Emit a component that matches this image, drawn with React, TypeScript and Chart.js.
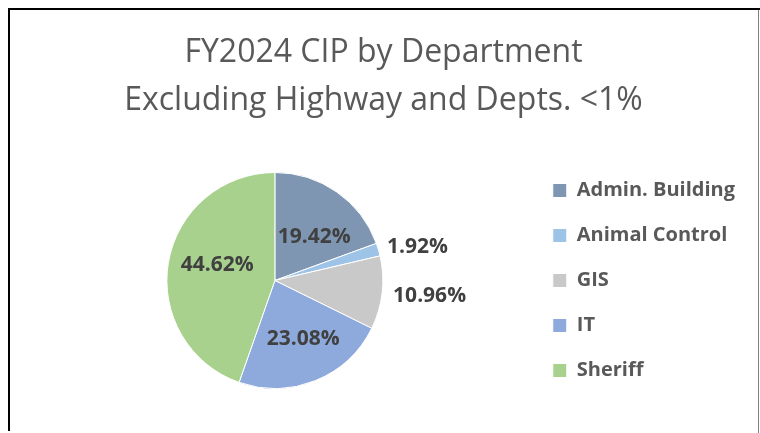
import React, { useEffect, useRef } from "react";
import { Chart, registerables } from "chart.js";

Chart.register(...registerables);

const titleLines = ["FY2024 CIP by Department", "Excluding Highway and Depts. <1%"];
const departments = ["Admin. Building", "Animal Control", "GIS", "IT", "Sheriff"];
const shares = [19.42, 1.92, 10.96, 23.08, 44.62];
const sliceColors = ["#7F96B2", "#9DC3E6", "#C9C9C9", "#8EA9DB", "#A9D18E"];
const labelPlacement = ["inside", "outside", "outside", "inside", "inside"];
const labelNudge = [
  [4, 7],
  [-1, 0],
  [1, 2],
  [5, 2],
  [3, -5],
];

const FONT = "'Open Sans', 'DejaVu Sans', sans-serif";

const pieLabels = {
  id: "pieLabels",
  afterDatasetsDraw(chart: any) {
    const ctx = chart.ctx;
    const meta = chart.getDatasetMeta(0);
    ctx.save();
    ctx.font = `bold 21px ${FONT}`;
    ctx.fillStyle = "#404040";
    ctx.textBaseline = "middle";
    meta.data.forEach((arc: any, i: number) => {
      const { x, y, startAngle, endAngle, outerRadius } = arc.getProps(
        ["x", "y", "startAngle", "endAngle", "outerRadius"],
        true
      );
      const mid = (startAngle + endAngle) / 2;
      const text = shares[i].toFixed(2) + "%";
      const [nx, ny] = labelNudge[i];
      if (labelPlacement[i] === "inside") {
        const r = outerRadius * 0.57;
        ctx.textAlign = "center";
        ctx.fillText(text, x + Math.cos(mid) * r + nx, y + Math.sin(mid) * r + ny);
      } else {
        const r = outerRadius + 10;
        ctx.textAlign = "left";
        ctx.fillText(text, x + Math.cos(mid) * r + nx, y + Math.sin(mid) * r + ny);
      }
    });
    ctx.restore();
  },
};

export default function App() {
  const ref = useRef<HTMLCanvasElement>(null);
  useEffect(() => {
    if (!ref.current) return;
    const chart = new Chart(ref.current, {
      type: "pie",
      data: {
        labels: departments,
        datasets: [
          {
            data: shares,
            backgroundColor: sliceColors,
            borderColor: "#ffffff",
            borderWidth: 1,
            radius: 108,
          },
        ],
      },
      options: {
        responsive: false,
        animation: false,
        layout: { padding: { left: 22, right: 15, top: 0, bottom: 2 } },
        plugins: {
          title: {
            display: true,
            text: titleLines,
            color: "#595959",
            font: { family: FONT, size: 32, weight: "normal", lineHeight: 1.5 },
            padding: { top: 29, bottom: 5 },
          },
          legend: {
            position: "right",
            fullSize: false,
            labels: {
              boxWidth: 14,
              boxHeight: 14,
              padding: 25,
              color: "#595959",
              font: { family: FONT, size: 20, weight: "bold" },
            },
          },
          tooltip: { enabled: false },
        },
      },
      plugins: [pieLabels],
    });
    return () => chart.destroy();
  }, []);

  return (
    <div style={{ position: "absolute", left: 0, top: 0, width: 760, height: 433, background: "#fff", overflow: "hidden" }}>
      <canvas ref={ref} width={760} height={433} style={{ position: "absolute", left: 0, top: 0 }} />
      <div style={{ position: "absolute", left: 8, top: 8, width: 752, height: 2, background: "#000" }} />
      <div style={{ position: "absolute", left: 8, top: 8, width: 2, height: 423, background: "#000" }} />
      <div style={{ position: "absolute", left: 758, top: 10, width: 1, height: 423, background: "#808080" }} />
    </div>
  );
}
